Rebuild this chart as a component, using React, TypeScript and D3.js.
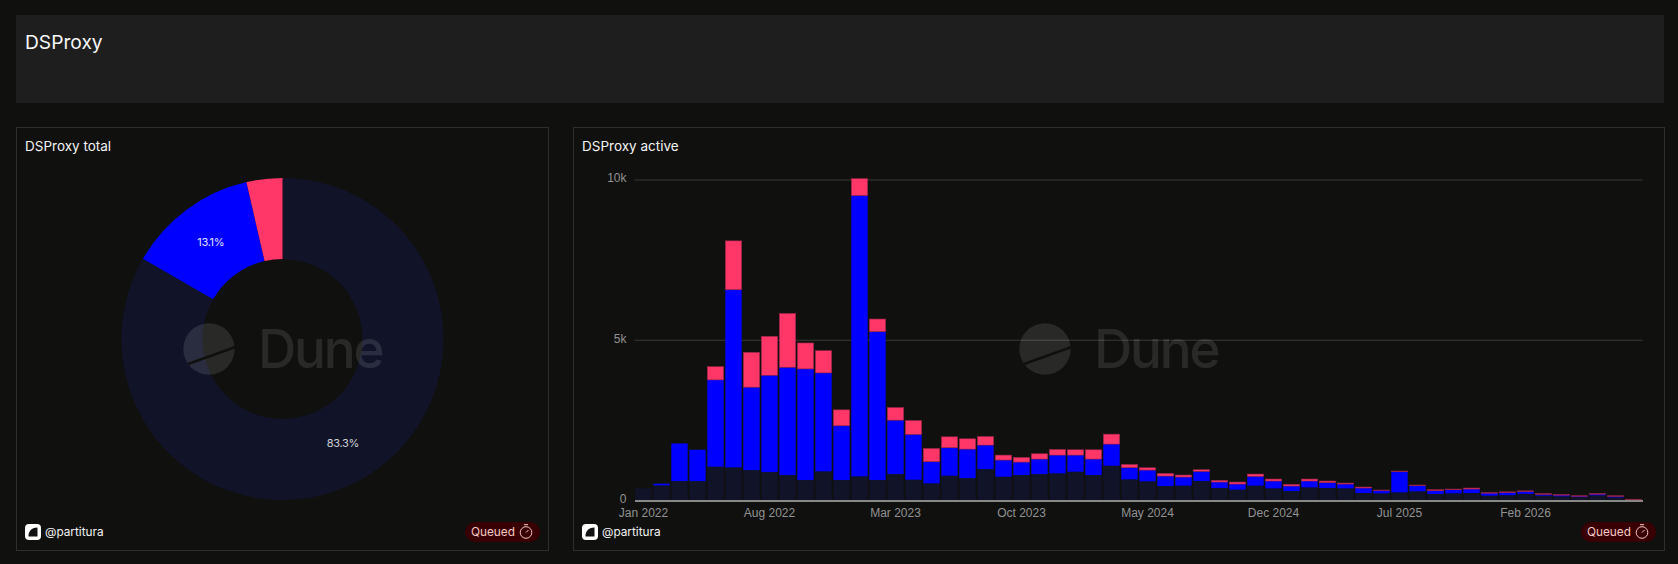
import React, { useRef, useEffect } from 'react';
import * as d3 from 'd3';

const WIDTH = 1678;
const HEIGHT = 564;
const FONT = 'Inter, "Noto Sans", sans-serif';
const AXIS_FONT = '"Liberation Sans", Arial, sans-serif';

const COLORS = { dark: '#111429', blue: '#0000ff', pink: '#ff3668' };

// monthly buckets, Jan 2022 -> Aug 2026
const months = d3.timeMonth.range(new Date(2022, 0, 1), new Date(2026, 8, 1));
const monthLabel = d3.timeFormat('%b %Y');

const darkValues = [
  363, 457, 590, 590, 1038, 1017, 934, 872, 778, 623, 893, 623, 737, 623, 810, 633, 519, 758, 685,
  965, 727, 779, 810, 830, 882, 779, 1069, 644, 581, 436, 446, 592, 374, 322, 446, 363, 280, 394,
  374, 363, 218, 208, 239, 270, 187, 208, 218, 135, 150, 190, 135, 114, 93, 145, 83, 12,
];
const blueValues = [
  0, 53, 1175, 977, 2709, 5543, 2585, 3020, 3363, 3467, 3072, 1692, 8761, 4629, 1681, 1412, 675,
  872, 903, 748, 519, 404, 467, 571, 519, 498, 675, 363, 353, 311, 270, 301, 186, 176, 291, 229,
  156, 198, 166, 135, 156, 93, 643, 176, 104, 114, 124, 83, 85, 75, 41, 42, 32, 42, 31, 6,
];
const pinkValues = [
  0, 0, 0, 0, 415, 1526, 1090, 1215, 1682, 810, 695, 498, 529, 395, 395, 436, 415, 342, 322, 270,
  155, 146, 166, 177, 166, 290, 311, 104, 73, 83, 63, 52, 52, 62, 73, 62, 52, 62, 52, 31, 31, 10,
  21, 21, 31, 20, 32, 10, 20, 20, 21, 10, 8, 10, 18, 6,
];

const xTickLabels = ['Jan 2022', 'Aug 2022', 'Mar 2023', 'Oct 2023', 'May 2024', 'Dec 2024', 'Jul 2025', 'Feb 2026'];
const yTicks = [0, 5000, 10000];

const pieLabels = ['dark', 'blue', 'pink'];
const pieShares = [83.3, 13.1, 3.6];
const pieLabelled = [true, true, false];

type Sel = d3.Selection<SVGGElement, unknown, null, undefined>;

// panel frame + title + footer (owner badge and "Queued" pill)
function drawPanel(svg: Sel, x: number, y: number, w: number, h: number, title: string) {
  svg.append('rect')
    .attr('x', x + 0.5).attr('y', y + 0.5).attr('width', w).attr('height', h)
    .attr('fill', '#10100f').attr('stroke', '#2e2e2d');
  svg.append('text')
    .attr('x', x + 9).attr('y', y + 24)
    .attr('fill', '#f4f4f4').attr('font-size', 13.5)
    .text(title);

  const fy = y + h;
  const logo = svg.append('g').attr('transform', `translate(${x + 9},${fy - 26})`);
  logo.append('rect').attr('width', 16).attr('height', 16).attr('rx', 4).attr('fill', '#fff');
  logo.append('path').attr('d', 'M3.5 11 C4 6.5 7 3.5 12.5 3.5 L12.5 12.5 L3.5 12.5 Z').attr('fill', '#111');
  svg.append('text')
    .attr('x', x + 29).attr('y', fy - 14)
    .attr('fill', '#f4f4f4').attr('font-size', 11.8)
    .text('@partitura');

  const px = x + w - 83;
  svg.append('rect')
    .attr('x', px).attr('y', fy - 28).attr('width', 75).attr('height', 20).attr('rx', 10)
    .attr('fill', '#390003');
  svg.append('text')
    .attr('x', px + 6).attr('y', fy - 14)
    .attr('fill', '#f8c9c4').attr('font-size', 11.8)
    .text('Queued');
  const clock = svg.append('g')
    .attr('transform', `translate(${px + 61},${fy - 17.5})`)
    .attr('fill', 'none').attr('stroke', '#f8c9c4').attr('stroke-width', 1);
  clock.append('circle').attr('r', 5.8);
  clock.append('path').attr('d', 'M-2 -7.8 H2 M0 0 L2.5 -2.5');
}

function drawWatermark(svg: Sel, cx: number, cy: number) {
  const g = svg.append('g').attr('transform', `translate(${cx},${cy})`).attr('pointer-events', 'none');
  g.append('circle').attr('r', 25.7).attr('fill', '#fff').attr('fill-opacity', 0.105);
  g.append('line')
    .attr('x1', -21).attr('y1', 15).attr('x2', 26.5).attr('y2', -2)
    .attr('stroke', '#10100f').attr('stroke-width', 2.4);
  g.append('text')
    .attr('x', 49).attr('y', 19)
    .attr('fill', '#fff').attr('fill-opacity', 0.105)
    .attr('font-size', 53).attr('font-weight', 500).attr('letter-spacing', -2.2)
    .text('Dune');
}

const App: React.FC = () => {
  const ref = useRef<SVGSVGElement>(null);

  useEffect(() => {
    const root = d3.select(ref.current);
    root.selectAll('*').remove(); // clear previous render

    const svg = root.append('g').attr('font-family', FONT) as unknown as Sel;

    svg.append('rect').attr('width', WIDTH).attr('height', HEIGHT).attr('fill', '#10100f');

    // header card
    svg.append('rect').attr('x', 16).attr('y', 15).attr('width', 1648).attr('height', 88).attr('fill', '#1e1e1e');
    svg.append('text')
      .attr('x', 25).attr('y', 49)
      .attr('fill', '#f8f8f8').attr('font-size', 19.2)
      .text('DSProxy');

    drawPanel(svg, 16, 127, 532, 423, 'DSProxy total');
    drawPanel(svg, 573, 127, 1091, 423, 'DSProxy active');

    // donut
    const pie = d3.pie<number>().sort(null).value(d => d);
    const arc = d3.arc<d3.PieArcDatum<number>>().innerRadius(80).outerRadius(161);
    const donut = svg.append('g').attr('transform', 'translate(282.5,339)');
    const slices = pie(pieShares);
    donut.selectAll('path').data(slices).enter().append('path')
      .attr('d', arc as any)
      .attr('fill', (_, i) => COLORS[pieLabels[i] as keyof typeof COLORS]);
    donut.selectAll('text').data(slices.filter((_, i) => pieLabelled[i])).enter().append('text')
      .attr('transform', d => `translate(${arc.centroid(d)})`)
      .attr('text-anchor', 'middle').attr('dy', '0.35em')
      .attr('font-size', 11).attr('letter-spacing', -0.3)
      .attr('fill', (_, i) => (i === 0 ? '#d0d0d4' : '#e2e2ff'))
      .text(d => `${d.data}%`);
    drawWatermark(svg, 209, 349);

    // stacked bars
    const x = d3.scaleBand<number>()
      .domain(d3.range(months.length))
      .range([634.5, 1642.5])
      .paddingInner(0.09)
      .paddingOuter(0.045);
    const y = d3.scaleLinear().domain([0, 10000]).range([500, 179.5]);

    const rows = months.map((_, i) => ({ i, dark: darkValues[i], blue: blueValues[i], pink: pinkValues[i] }));
    const stack = d3.stack<any>().keys(['dark', 'blue', 'pink'])(rows);

    const yAxis = d3.axisLeft(y)
      .tickValues(yTicks)
      .tickSize(0)
      .tickPadding(8)
      .tickFormat(d => (+d === 0 ? '0' : `${+d / 1000}k`));
    const yG = svg.append('g').attr('transform', 'translate(634.5,0)').call(yAxis as any);
    yG.select('.domain').remove();
    yG.selectAll('text').attr('fill', '#929292').attr('font-size', 12).attr('font-family', AXIS_FONT).attr('dy', '0.2em');
    yG.selectAll('.tick').filter(d => +(d as number) > 0).append('line')
      .attr('x2', 1008).attr('stroke', '#383837');

    const layers = svg.append('g').selectAll('g').data(stack).enter().append('g')
      .attr('fill', d => COLORS[d.key as keyof typeof COLORS]);
    layers.selectAll('rect').data(d => d.map(v => ({ v, key: d.key }))).enter().append('rect')
      .filter(d => d.v[1] > d.v[0])
      .attr('x', d => x(d.v.data.i) as number)
      .attr('width', x.bandwidth())
      .attr('y', d => y(d.v[1]))
      .attr('height', d => Math.max(y(d.v[0]) - y(d.v[1]), 0.5))
      .attr('stroke', d => (d.key === 'pink' ? '#8f2447' : 'none'))
      .attr('stroke-width', 0.6);

    drawWatermark(svg, 1045, 349);

    const xAxis = d3.axisBottom(x)
      .tickValues(xTickLabels.map(l => months.findIndex(m => monthLabel(m) === l)))
      .tickSize(0)
      .tickPadding(8)
      .tickFormat(i => monthLabel(months[+i]));
    const xG = svg.append('g').attr('transform', 'translate(0,500.5)').call(xAxis as any);
    xG.select('.domain').attr('stroke', '#ffffff').attr('stroke-width', 1);
    xG.selectAll('text').attr('fill', '#929292').attr('font-size', 12).attr('font-family', AXIS_FONT);
  }, []);

  return <svg ref={ref} width={WIDTH} height={HEIGHT} style={{ position: 'fixed', left: 0, top: 0, display: 'block' }}></svg>;
};

export default App;
